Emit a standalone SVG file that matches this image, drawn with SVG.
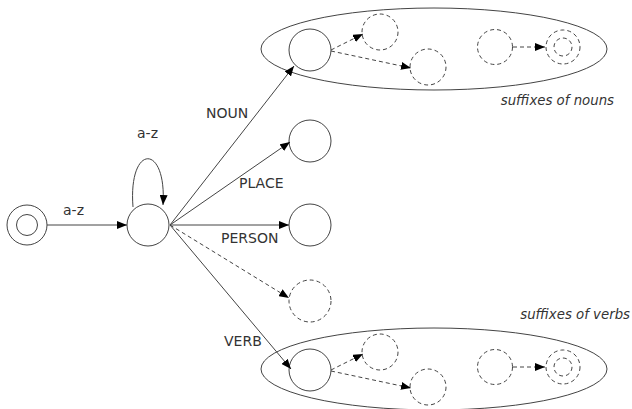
<svg xmlns="http://www.w3.org/2000/svg" width="632" height="409" viewBox="0 0 632 409">
  <style>
    .st { fill: #fff; stroke: #444; stroke-width: 1; }
    .dash { fill: none; stroke: #444; stroke-width: 1; stroke-dasharray: 4 3; }
    .grp { fill: none; stroke: #444; stroke-width: 1; }
    .edge { fill: none; stroke: #444; stroke-width: 1; marker-end: url(#arr); }
    .edge.d { stroke-dasharray: 4 3; }
    .lbl { font-family: "DejaVu Sans", sans-serif; font-size: 14px; fill: #333; }
    .note { font-family: "DejaVu Sans", sans-serif; font-size: 13.3px; font-style: italic; fill: #333; }
  </style>
  <defs>
    <marker id="arr" markerUnits="userSpaceOnUse" markerWidth="10" markerHeight="8" viewBox="0 0 10 8" refX="10" refY="4" orient="auto">
      <path d="M0,0 L10,4 L0,8 Z" fill="#000"/>
    </marker>
  </defs>

  <!-- suffix groups -->
  <g id="nounSuffixes">
    <ellipse class="grp" cx="434" cy="49" rx="173" ry="41"/>
    <text class="note" x="614" y="105" text-anchor="end">suffixes of nouns</text>
  </g>
  <g id="verbSuffixes">
    <ellipse class="grp" cx="434" cy="369" rx="173" ry="41"/>
    <text class="note" x="630" y="319" text-anchor="end">suffixes of verbs</text>
  </g>

  <!-- states -->
  <g id="start">
    <circle class="st" cx="27" cy="225" r="20"/>
    <circle class="st" cx="27" cy="225" r="10.5"/>
  </g>
  <g id="root"><circle class="st" cx="148" cy="225" r="21"/></g>
  <g id="noun"><circle class="st" cx="310" cy="50" r="21"/></g>
  <g id="place"><circle class="st" cx="310" cy="141" r="21"/></g>
  <g id="person"><circle class="st" cx="310" cy="225" r="21"/></g>
  <g id="other"><circle class="dash" cx="310" cy="301" r="21"/></g>
  <g id="verb"><circle class="st" cx="310" cy="370" r="21"/></g>

  <g id="nounS1"><circle class="dash" cx="380" cy="32" r="18"/></g>
  <g id="nounS2"><circle class="dash" cx="428" cy="67" r="18"/></g>
  <g id="nounS3"><circle class="dash" cx="495" cy="47" r="17.5"/></g>
  <g id="nounS4">
    <circle class="dash" cx="563" cy="47" r="17"/>
    <circle class="dash" cx="563" cy="47" r="9"/>
  </g>

  <g id="verbS1"><circle class="dash" cx="380" cy="352" r="18"/></g>
  <g id="verbS2"><circle class="dash" cx="428" cy="387" r="18"/></g>
  <g id="verbS3"><circle class="dash" cx="495" cy="367" r="17.5"/></g>
  <g id="verbS4">
    <circle class="dash" cx="563" cy="367" r="17"/>
    <circle class="dash" cx="563" cy="367" r="9"/>
  </g>

  <!-- transitions -->
  <g id="connectors">
    <path class="edge" d="M47,225 L127,225"/>
    <path class="edge" d="M133,207 C128,143 167,143 163,205"/>
    <path class="edge" d="M170,225 L294,66"/>
    <path class="edge" d="M170,225 L290,142"/>
    <path class="edge" d="M170,225 L289,225"/>
    <path class="edge d" d="M170,225 L289,298"/>
    <path class="edge" d="M170,225 L291,369"/>

    <path class="edge d" d="M331,50 L363,34"/>
    <path class="edge d" d="M331,51 L411,68"/>
    <path class="edge d" d="M513,47 L545,47"/>

    <path class="edge d" d="M331,370 L363,354"/>
    <path class="edge d" d="M331,371 L411,388"/>
    <path class="edge d" d="M513,367 L545,367"/>
  </g>

  <!-- transition labels -->
  <g id="labels">
    <text class="lbl" x="63" y="215">a-z</text>
    <text class="lbl" x="137" y="138">a-z</text>
    <text class="lbl" x="206" y="118">NOUN</text>
    <text class="lbl" x="239" y="188">PLACE</text>
    <text class="lbl" x="221" y="243">PERSON</text>
    <text class="lbl" x="224" y="346">VERB</text>
  </g>
</svg>
